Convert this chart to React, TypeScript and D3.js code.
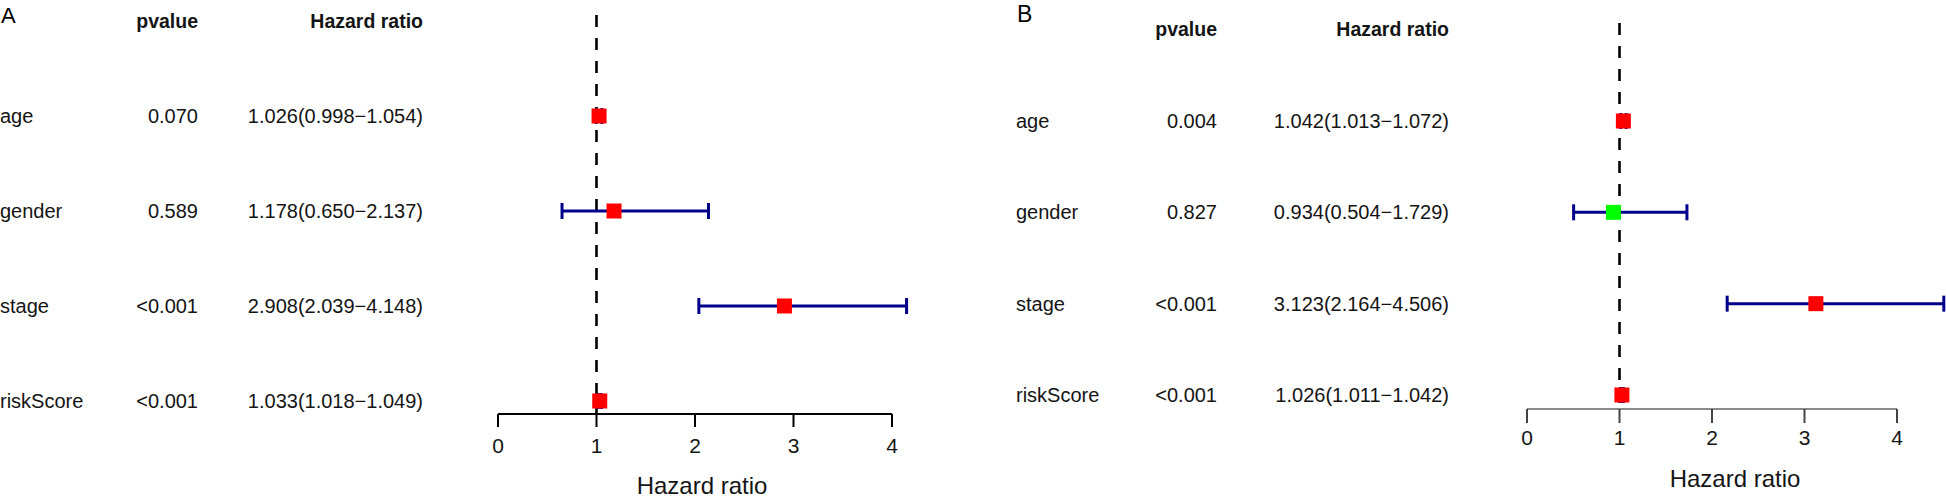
import React from "react";
import * as d3 from "d3";

const variables = ["age", "gender", "stage", "riskScore"];
const xTicks = [0, 1, 2, 3, 4];

// Panel A (univariate)
const pvaluesA = ["0.070", "0.589", "<0.001", "<0.001"];
const hrA = [1.026, 1.178, 2.908, 1.033];
const lowA = [0.998, 0.65, 2.039, 1.018];
const highA = [1.054, 2.137, 4.148, 1.049];

// Panel B (multivariate)
const pvaluesB = ["0.004", "0.827", "<0.001", "<0.001"];
const hrB = [1.042, 0.934, 3.123, 1.026];
const lowB = [1.013, 0.504, 2.164, 1.011];
const highB = [1.072, 1.729, 4.506, 1.042];

const FONT = "'Liberation Sans', Arial, Helvetica, sans-serif";

type Layout = {
  letter: string;
  letterX: number;
  letterY: number;
  letterSize: number;
  labelX: number;
  pRight: number;
  hrRight: number;
  headerY: number;
  rowTop: number;
  rowBottom: number;
  xLeft: number;
  xRight: number;
  axisY: number;
  tickLen: number;
  tickLabelY: number;
  axisColor: string;
  dashTop: number;
  titleX: number;
  titleY: number;
};

function fmt(v: number) {
  return v.toFixed(3);
}

function ForestPanel({
  L,
  pvalues,
  hr,
  low,
  high,
}: {
  L: Layout;
  pvalues: string[];
  hr: number[];
  low: number[];
  high: number[];
}) {
  const x = d3.scaleLinear().domain([0, 4]).range([L.xLeft, L.xRight]);
  const y = d3.scalePoint<string>().domain(variables).range([L.rowTop, L.rowBottom]);
  const textFill = "#141414";
  const sq = 15;
  const cap = 8;
  return (
    <g fontFamily={FONT}>
      <text x={L.letterX} y={L.letterY} fontSize={L.letterSize} fill="#000">
        {L.letter}
      </text>
      <text x={L.pRight} y={L.headerY} fontSize={19.5} fontWeight="bold" textAnchor="end" fill={textFill}>
        pvalue
      </text>
      <text x={L.hrRight} y={L.headerY} fontSize={19.5} fontWeight="bold" textAnchor="end" fill={textFill}>
        Hazard ratio
      </text>
      {variables.map((v, i) => {
        const yy = y(v)!;
        return (
          <g key={v}>
            <text x={L.labelX} y={yy} dy="0.35em" fontSize={20} fill={textFill}>
              {v}
            </text>
            <text x={L.pRight} y={yy} dy="0.35em" fontSize={20} textAnchor="end" fill={textFill}>
              {pvalues[i]}
            </text>
            <text x={L.hrRight} y={yy} dy="0.35em" fontSize={20} textAnchor="end" fill={textFill}>
              {`${fmt(hr[i])}(${fmt(low[i])}\u2212${fmt(high[i])})`}
            </text>
          </g>
        );
      })}
      {/* reference line */}
      <line
        x1={x(1)}
        x2={x(1)}
        y1={L.dashTop}
        y2={L.axisY}
        stroke="#000"
        strokeWidth={2.6}
        strokeDasharray="12 11"
      />
      {/* error bars */}
      {variables.map((v, i) => {
        const yy = y(v)!;
        return (
          <g key={"e" + v} stroke="#00008B" strokeWidth={3}>
            <line x1={x(low[i])} x2={x(high[i])} y1={yy} y2={yy} />
            <line x1={x(low[i])} x2={x(low[i])} y1={yy - cap} y2={yy + cap} />
            <line x1={x(high[i])} x2={x(high[i])} y1={yy - cap} y2={yy + cap} />
          </g>
        );
      })}
      {variables.map((v, i) => {
        const yy = y(v)!;
        return (
          <rect
            key={"m" + v}
            x={x(hr[i]) - sq / 2}
            y={yy - sq / 2}
            width={sq}
            height={sq}
            fill={hr[i] > 1 ? "#FF0000" : "#00FF00"}
          />
        );
      })}
      {/* axis */}
      <line x1={x(0)} x2={x(4)} y1={L.axisY} y2={L.axisY} stroke={L.axisColor} strokeWidth={2} />
      {xTicks.map((t) => (
        <g key={"t" + t}>
          <line x1={x(t)} x2={x(t)} y1={L.axisY} y2={L.axisY + L.tickLen} stroke={L.axisColor === "#000" ? "#000" : "#444"} strokeWidth={2} />
          <text x={x(t)} y={L.tickLabelY} fontSize={21} textAnchor="middle" fill={textFill}>
            {t}
          </text>
        </g>
      ))}
      <text x={L.titleX} y={L.titleY} fontSize={24} textAnchor="middle" fill={textFill}>
        Hazard ratio
      </text>
    </g>
  );
}

const layoutA: Layout = {
  letter: "A",
  letterX: 1,
  letterY: 23,
  letterSize: 22,
  labelX: 0,
  pRight: 198,
  hrRight: 423,
  headerY: 28,
  rowTop: 116,
  rowBottom: 401,
  xLeft: 498,
  xRight: 892,
  axisY: 414,
  tickLen: 13,
  tickLabelY: 453,
  axisColor: "#000",
  dashTop: 15,
  titleX: 702,
  titleY: 494,
};

const layoutB: Layout = {
  letter: "B",
  letterX: 1017,
  letterY: 22,
  letterSize: 23,
  labelX: 1016,
  pRight: 1217,
  hrRight: 1449,
  headerY: 36,
  rowTop: 121,
  rowBottom: 395,
  xLeft: 1527,
  xRight: 1897,
  axisY: 409,
  tickLen: 14,
  tickLabelY: 445,
  axisColor: "#8a8a8a",
  dashTop: 23,
  titleX: 1735,
  titleY: 487,
};

export default function App() {
  return (
    <svg
      width={1946}
      height={499}
      style={{ position: "absolute", left: 0, top: 0, background: "#fff" }}
    >
      <rect width={1946} height={499} fill="#fff" />
      <ForestPanel L={layoutA} pvalues={pvaluesA} hr={hrA} low={lowA} high={highA} />
      <ForestPanel L={layoutB} pvalues={pvaluesB} hr={hrB} low={lowB} high={highB} />
    </svg>
  );
}
